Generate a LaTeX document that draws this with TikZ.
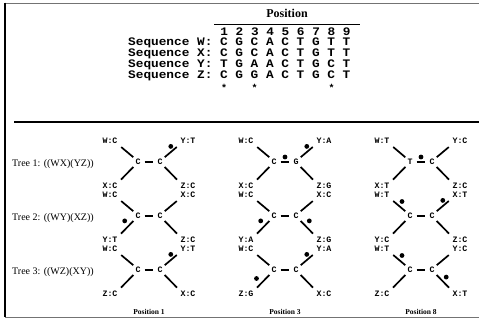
\documentclass[tikz,border=0pt]{standalone}
\usepackage{fontspec}
\setmainfont{Liberation Serif}
\setmonofont{Liberation Mono}
\newfontfamily\seqfont[FakeStretch=1.11]{Liberation Mono}
\usetikzlibrary{calc}
\tikzset{
  seqtxt/.style={font=\seqfont\bfseries\fontsize{11.5}{13}\selectfont, inner sep=0pt, anchor=base west, text height=6.5pt, text depth=0.5pt},
  startxt/.style={font=\ttfamily\bfseries\fontsize{10}{12}\selectfont, inner sep=0pt, anchor=base},
  leaf/.style={font=\ttfamily\bfseries\fontsize{8.3}{9}\selectfont, inner sep=0.5pt},
  edge/.style={line width=1.7pt, shorten <=2pt, shorten >=4pt},
  midedge/.style={line width=1.7pt, shorten <=3.5pt, shorten >=3.5pt},
  dotm/.style={circle, fill=black, inner sep=0pt, minimum size=4.8pt},
  treelab/.style={font=\fontsize{10}{12}\selectfont, anchor=west, inner sep=0pt},
  poslab/.style={font=\bfseries\fontsize{7.5}{9}\selectfont, inner sep=0pt},
  framegray/.style={draw=black!55, line width=0.8pt},
}
% #1 name, #2 cx, #3 top y, #4 TL, #5 TR, #6 BL, #7 BR, #8 IL, #9 IR
\newcommand\mytree[9]{%
  \node[leaf] (#1TL) at (#2-39,#3) {#4};
  \node[leaf] (#1TR) at (#2+39,#3) {#5};
  \node[leaf] (#1BL) at (#2-39,#3+45) {#6};
  \node[leaf] (#1BR) at (#2+39,#3+45) {#7};
  \node[leaf] (#1IL) at (#2-11,#3+21) {#8};
  \node[leaf] (#1IR) at (#2+11,#3+21) {#9};
  \draw[edge] (#1IL.north west) -- (#1TL.south east);
  \draw[edge] (#1IR.north east) -- (#1TR.south west);
  \draw[edge] (#1IL.south west) -- (#1BL.north east);
  \draw[edge] (#1IR.south east) -- (#1BR.north west);
  \draw[midedge] (#1IL) -- (#1IR);
}
\begin{document}
\begin{tikzpicture}[x=1pt,y=-1pt]
\useasboundingbox (0,0) rectangle (479,320);
% frame
\draw[framegray] (5,3) -- (482,3);
\draw[framegray] (5,317) -- (482,317);
\draw[line width=1.2pt] (5,2.6) -- (5,317.4);
% header
\node[font=\bfseries\fontsize{12}{14}\selectfont, inner sep=0pt] (poshead) at (287,13) {Position};
\draw[line width=1pt] (214,25) -- (360,25);
\node[seqtxt] (nums) at (220.2,36) {1 2 3 4 5 6 7 8 9};
\node[seqtxt] (sw) at (128,46) {Sequence W: C G C A C T G T T};
\node[seqtxt] (sx) at (128,57) {Sequence X: C G C A C T G T T};
\node[seqtxt] (sy) at (128,68) {Sequence Y: T G A A C T G C T};
\node[seqtxt] (sz) at (128,79) {Sequence Z: C G G A C T G C T};
\node[startxt] (st1) at (224.0,92) {*};
\node[startxt] (st3) at (254.7,92) {*};
\node[startxt] (st8) at (331.5,92) {*};
% separator
\draw[line width=1.2pt] (14,122) -- (479,122);
% tree labels
\node[treelab] (t1) at (12,164) {Tree 1: ((WX)(YZ))};
\node[treelab] (t2) at (12,218) {Tree 2: ((WY)(XZ))};
\node[treelab] (t3) at (12,272) {Tree 3: ((WZ)(XY))};
% column 1: position 1
\mytree{a}{149}{141}{W:C}{Y:T}{X:C}{Z:C}{C}{C}
\mytree{b}{149}{195}{W:C}{X:C}{Y:T}{Z:C}{C}{C}
\mytree{c}{149}{249}{W:C}{Y:T}{Z:C}{X:C}{C}{C}
\node[dotm] (da1) at ($(aIR)!0.6!(aTR)+(-6,-3)$) {};
\node[dotm] (db1) at ($(bIL)!0.35!(bBL)+(-3.5,-3.5)$) {};
\node[dotm] (dc1) at ($(cIR)!0.6!(cTR)+(-6,-3)$) {};
% column 2: position 3
\mytree{d}{285}{141}{W:C}{Y:A}{X:C}{Z:G}{C}{G}
\mytree{e}{285}{195}{W:C}{X:C}{Y:A}{Z:G}{C}{C}
\mytree{f}{285}{249}{W:C}{Y:A}{Z:G}{X:C}{C}{C}
\node[dotm] (dd1) at ($(dIR)!0.6!(dTR)+(-6,-3)$) {};
\node[dotm] (dd2) at ($(dIL)!0.5!(dIR)+(0,-5)$) {};
\node[dotm] (de1) at ($(eIL)!0.35!(eBL)+(-3.5,-3.5)$) {};
\node[dotm] (de2) at ($(eIR)!0.35!(eBR)+(3.5,-3.5)$) {};
\node[dotm] (df1) at ($(fIR)!0.6!(fTR)+(-6,-3)$) {};
\node[dotm] (df2) at ($(fIL)!0.5!(fBL)+(-3.5,-3.5)$) {};
% column 3: position 8
\mytree{g}{421}{141}{W:T}{Y:C}{X:T}{Z:C}{T}{C}
\mytree{h}{421}{195}{W:T}{X:T}{Y:C}{Z:C}{C}{C}
\mytree{k}{421}{249}{W:T}{Y:C}{Z:C}{X:T}{C}{C}
\node[dotm] (dg1) at ($(gIL)!0.5!(gIR)+(0,-5)$) {};
\node[dotm] (dh1) at ($(hIL)!0.5!(hTL)+(6,-4)$) {};
\node[dotm] (dh2) at ($(hIR)!0.6!(hTR)+(-6,-3)$) {};
\node[dotm] (dk1) at ($(kIL)!0.5!(kTL)+(6,-4)$) {};
\node[dotm] (dk2) at ($(kIR)!0.4!(kBR)+(3,-2.5)$) {};
% position footers
\node[poslab] (p1) at (149,312) {Position 1};
\node[poslab] (p3) at (285,312) {Position 3};
\node[poslab] (p8) at (421,312) {Position 8};
\end{tikzpicture}
\end{document}
